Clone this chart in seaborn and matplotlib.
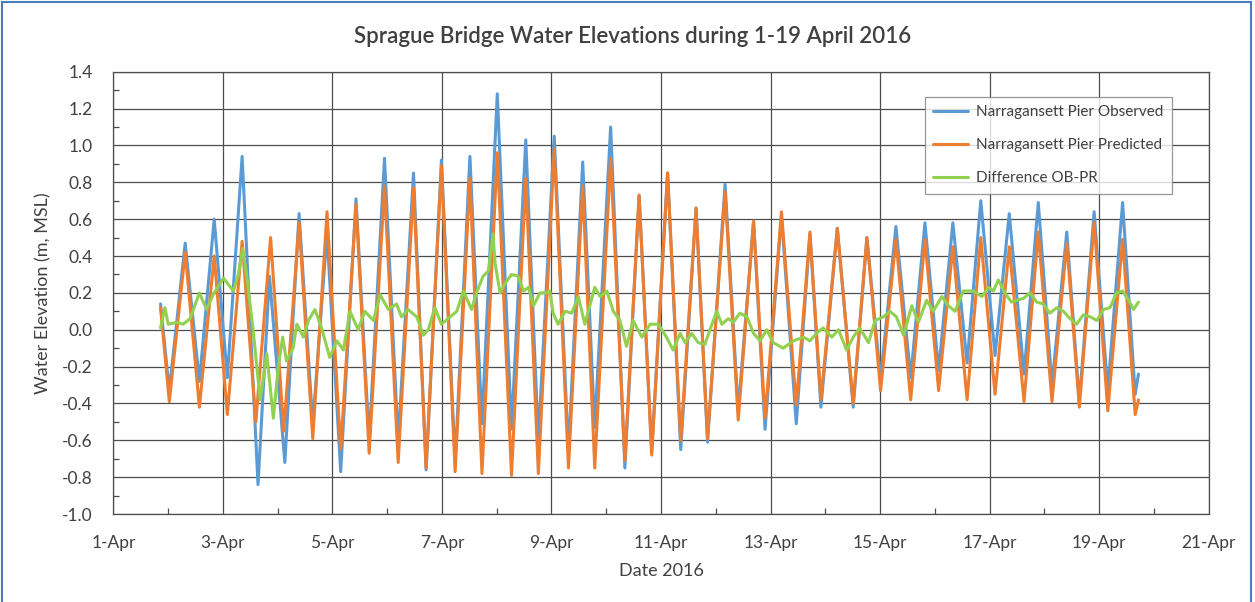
import pandas as pd
import seaborn as sns
import matplotlib.pyplot as plt
from matplotlib.patches import Rectangle
from matplotlib.ticker import MultipleLocator

# days are April day-of-month as decimals, values in m (MSL)
obs_days = [1.86, 2.02, 2.31, 2.57, 2.84, 3.08, 3.35, 3.64, 3.85, 4.13, 4.39, 4.64, 4.90, 5.15,
            5.43, 5.67, 5.95, 6.20, 6.48, 6.71, 6.99, 7.24, 7.51, 7.73, 8.01, 8.27, 8.53, 8.76,
            9.05, 9.31, 9.57, 9.79, 10.08, 10.34, 10.60, 10.83, 11.12, 11.36, 11.64, 11.85,
            12.17, 12.41, 12.69, 12.90, 13.20, 13.47, 13.72, 13.92, 14.22, 14.51, 14.76, 15.01,
            15.29, 15.56, 15.82, 16.07, 16.33, 16.59, 16.84, 17.10, 17.36, 17.63, 17.89, 18.14,
            18.41, 18.64, 18.91, 19.16, 19.43, 19.66, 19.72]
obs_vals = [0.14, -0.33, 0.47, -0.28, 0.60, -0.26, 0.94, -0.84, 0.29, -0.72, 0.63, -0.51, 0.52, -0.77,
            0.71, -0.60, 0.93, -0.61, 0.85, -0.76, 0.92, -0.72, 0.94, -0.51, 1.28, -0.54, 1.03, -0.60,
            1.05, -0.66, 0.91, -0.53, 1.10, -0.75, 0.73, -0.66, 0.85, -0.65, 0.66, -0.61,
            0.79, -0.44, 0.59, -0.54, 0.62, -0.51, 0.52, -0.42, 0.55, -0.42, 0.50, -0.27,
            0.56, -0.26, 0.58, -0.22, 0.58, -0.18, 0.70, -0.14, 0.63, -0.24, 0.69, -0.30,
            0.53, -0.39, 0.64, -0.33, 0.69, -0.35, -0.24]

pred_days = [1.86, 2.02, 2.31, 2.57, 2.84, 3.08, 3.35, 3.60, 3.87, 4.11, 4.39, 4.64, 4.90, 5.15,
             5.43, 5.67, 5.95, 6.20, 6.48, 6.71, 6.99, 7.24, 7.51, 7.73, 8.01, 8.27, 8.53, 8.76,
             9.05, 9.31, 9.57, 9.79, 10.08, 10.34, 10.60, 10.83, 11.12, 11.36, 11.64, 11.85,
             12.17, 12.41, 12.69, 12.90, 13.20, 13.47, 13.72, 13.92, 14.22, 14.51, 14.76, 15.01,
             15.29, 15.56, 15.82, 16.07, 16.33, 16.59, 16.84, 17.10, 17.36, 17.63, 17.89, 18.14,
             18.41, 18.64, 18.91, 19.16, 19.43, 19.66, 19.72]
pred_vals = [0.12, -0.39, 0.42, -0.42, 0.40, -0.46, 0.48, -0.50, 0.50, -0.55, 0.58, -0.59, 0.64, -0.65,
             0.68, -0.67, 0.78, -0.72, 0.77, -0.75, 0.89, -0.77, 0.82, -0.78, 0.96, -0.79, 0.82, -0.78,
             0.98, -0.75, 0.78, -0.75, 0.93, -0.71, 0.73, -0.68, 0.85, -0.60, 0.66, -0.59,
             0.75, -0.49, 0.59, -0.48, 0.64, -0.41, 0.53, -0.38, 0.55, -0.40, 0.50, -0.33,
             0.49, -0.38, 0.49, -0.33, 0.45, -0.38, 0.50, -0.35, 0.45, -0.39, 0.53, -0.39,
             0.47, -0.42, 0.58, -0.44, 0.49, -0.46, -0.38]

diff_days = [1.86, 1.94, 2.00, 2.15, 2.27, 2.40, 2.57, 2.70, 2.82, 3.01, 3.19, 3.28, 3.36, 3.43,
             3.55, 3.68, 3.80, 3.92, 4.01, 4.09, 4.16, 4.28, 4.35, 4.47, 4.56, 4.68, 4.80, 4.95,
             5.08, 5.20, 5.32, 5.47, 5.59, 5.75, 5.87, 6.02, 6.17, 6.26, 6.38, 6.54, 6.66, 6.75,
             6.87, 6.99, 7.15, 7.27, 7.39, 7.54, 7.63, 7.75, 7.85, 7.93, 7.97, 8.06, 8.15, 8.27,
             8.39, 8.49, 8.58, 8.67, 8.79, 8.91, 8.97, 9.03, 9.12, 9.25, 9.37, 9.49, 9.61, 9.79,
             9.89, 10.01, 10.13, 10.25, 10.37, 10.49, 10.65, 10.80, 10.95, 11.10, 11.22, 11.35,
             11.44, 11.56, 11.68, 11.80, 11.93, 12.02, 12.11, 12.23, 12.32, 12.44, 12.57, 12.69,
             12.81, 12.93, 13.05, 13.23, 13.42, 13.60, 13.72, 13.84, 13.96, 14.12, 14.24, 14.39,
             14.51, 14.63, 14.79, 14.91, 15.06, 15.18, 15.30, 15.43, 15.58, 15.70, 15.85, 15.97,
             16.13, 16.25, 16.37, 16.52, 16.70, 16.86, 16.98, 17.07, 17.16, 17.28, 17.40, 17.50,
             17.62, 17.74, 17.86, 17.98, 18.10, 18.23, 18.35, 18.47, 18.59, 18.71, 18.84, 18.96,
             19.08, 19.20, 19.32, 19.43, 19.54, 19.63, 19.72]
diff_vals = [0.01, 0.12, 0.03, 0.04, 0.03, 0.06, 0.20, 0.11, 0.19, 0.28, 0.21, 0.30, 0.44, 0.30,
             0.00, -0.38, -0.13, -0.48, -0.20, -0.04, -0.17, -0.10, 0.03, -0.04, 0.05, 0.11, 0.01, -0.15,
             -0.06, -0.11, 0.10, 0.00, 0.10, 0.05, 0.19, 0.11, 0.14, 0.07, 0.11, 0.07, -0.03, 0.00,
             0.12, 0.03, 0.07, 0.10, 0.21, 0.11, 0.20, 0.29, 0.32, 0.52, 0.36, 0.20, 0.25, 0.30,
             0.29, 0.21, 0.23, 0.13, 0.20, 0.20, 0.21, 0.09, 0.03, 0.10, 0.09, 0.18, 0.03, 0.23,
             0.18, 0.21, 0.10, 0.05, -0.09, 0.05, -0.04, 0.03, 0.03, -0.04, -0.11, -0.02,
             -0.07, -0.02, -0.07, -0.08, 0.03, 0.10, 0.03, 0.06, 0.04, 0.09, 0.07, -0.02,
             -0.06, 0.00, -0.07, -0.10, -0.06, -0.04, -0.06, -0.02, 0.01, -0.04, 0.00, -0.11,
             -0.04, 0.01, -0.07, 0.05, 0.07, 0.10, 0.07, -0.03, 0.13, 0.04, 0.16, 0.10,
             0.18, 0.13, 0.10, 0.21, 0.21, 0.18, 0.23, 0.21, 0.27, 0.20, 0.15, 0.16,
             0.17, 0.20, 0.15, 0.14, 0.09, 0.12, 0.10, 0.06, 0.03, 0.08, 0.07, 0.05,
             0.11, 0.12, 0.20, 0.21, 0.16, 0.11, 0.15]

series_names = ['Narragansett Pier Observed', 'Narragansett Pier Predicted', 'Difference OB-PR']
colors = ['#5B9BD5', '#ED7D31', '#92D050']
tick_days = [1, 3, 5, 7, 9, 11, 13, 15, 17, 19, 21]
tick_labels = ['%d-Apr' % d for d in tick_days]

frames = []
for name, d, v in zip(series_names, [obs_days, pred_days, diff_days], [obs_vals, pred_vals, diff_vals]):
    frames.append(pd.DataFrame({'day': d, 'value': v, 'series': name}))
data = pd.concat(frames, ignore_index=True)

sns.set_theme(style='white')
plt.rcParams['font.family'] = ['Lato', 'DejaVu Sans']
txt = '#404040'
grid_c = '#4d4d4d'

fig = plt.figure(figsize=(12.55, 6.02), dpi=100)
ax = fig.add_axes([0.0904, 0.146, 0.8726, 0.735])

sns.lineplot(data=data, x='day', y='value', hue='series', hue_order=series_names,
             palette=colors, sort=False, estimator=None, linewidth=2.2, ax=ax)
for ln in ax.get_lines():
    ln.set_solid_joinstyle('round')

ax.set_xlim(1, 21)
ax.set_ylim(-1.0, 1.4)
ax.set_xticks(tick_days)
ax.set_xticklabels(tick_labels)
ax.xaxis.set_minor_locator(MultipleLocator(1))
ax.yaxis.set_major_locator(MultipleLocator(0.2))
ax.yaxis.set_minor_locator(MultipleLocator(0.1))
ax.yaxis.set_major_formatter(plt.FuncFormatter(lambda v, p: '%.1f' % v))
ax.tick_params(which='major', length=0, labelsize=12.5, colors=txt, pad=15)
ax.tick_params(which='minor', direction='in', length=4, width=0.9, color=grid_c,
               bottom=True, left=True)
ax.grid(True, which='major', color=grid_c, linewidth=0.9)
ax.set_axisbelow(True)
for s in ax.spines.values():
    s.set_color(grid_c)
    s.set_linewidth(0.9)

ax.set_xlabel('Date 2016', fontsize=13, color=txt)
ax.set_ylabel('Water Elevation (m, MSL)', fontsize=13, color=txt)
ax.xaxis.set_label_coords(0.5, -0.11)
ax.yaxis.set_label_coords(-0.057, 0.5)

handles, labels = ax.get_legend_handles_labels()
leg = ax.legend(handles, labels, loc='upper left', bbox_to_anchor=(0.734, 0.961),
                fontsize=11, frameon=True, fancybox=False, handlelength=2.3,
                labelspacing=1.25, borderpad=0.55, handletextpad=0.5)
leg.get_frame().set_edgecolor('#7f7f7f')
leg.get_frame().set_linewidth(0.9)
for t in leg.get_texts():
    t.set_color(txt)

fig.text(0.504, 0.94, 'Sprague Bridge Water Elevations during 1-19 April 2016',
         ha='center', va='center', fontsize=16, color=txt, fontweight='semibold')

fig.add_artist(Rectangle((0.0015, -0.05), 0.995, 1.046, transform=fig.transFigure,
                         fill=False, edgecolor='#4A7EBB', linewidth=1.5))

fig.savefig('out.png', dpi=100)
